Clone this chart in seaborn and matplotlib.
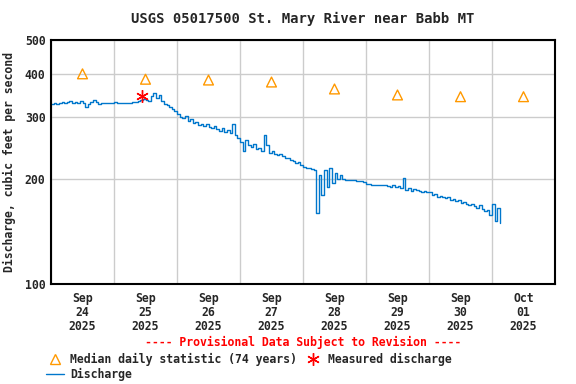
import numpy as np
import pandas as pd
import matplotlib
matplotlib.use("Agg")
import matplotlib.pyplot as plt
import matplotlib.dates as mdates
from matplotlib.lines import Line2D
from matplotlib.ticker import FixedLocator, NullFormatter, NullLocator
import seaborn as sns

# hourly discharge, cfs, starting Sep 24 2025 00:00
sep24 = [328, 330, 327, 331, 333, 329, 332, 335, 331, 333, 330, 334,
         329, 322, 328, 333, 336, 332, 327, 329, 330, 331, 330, 331]
sep25 = [332, 331, 331, 330, 329, 329, 331, 333, 332, 334, 336, 338,
         337, 334, 345, 352, 340, 348, 335, 328, 325, 322, 318, 314]
sep26 = [306, 300, 298, 302, 294, 296, 290, 292, 286, 288, 284, 287,
         282, 280, 284, 278, 275, 279, 272, 276, 270, 288, 268, 262]
sep27 = [255, 240, 258, 250, 247, 252, 244, 246, 240, 268, 250, 238,
         240, 236, 234, 236, 232, 230, 229, 227, 225, 222, 224, 219]
sep28 = [217, 215, 215, 214, 212, 160, 205, 180, 212, 190, 215, 195,
         208, 200, 205, 200, 199, 199, 198, 198, 197, 197, 197, 196]
sep29 = [193, 193, 192, 192, 192, 192, 192, 192, 191, 190, 192, 189,
         191, 188, 201, 186, 188, 185, 187, 186, 185, 184, 185, 183]
sep30 = [183, 180, 181, 178, 179, 177, 176, 178, 174, 175, 173, 174,
         171, 172, 170, 168, 169, 167, 165, 168, 164, 162, 163, 158]
oct01 = [170, 152, 165, 150]
discharge = sep24 + sep25 + sep26 + sep27 + sep28 + sep29 + sep30 + oct01

median_days = ["2025-09-24", "2025-09-25", "2025-09-26", "2025-09-27",
               "2025-09-28", "2025-09-29", "2025-09-30", "2025-10-01"]
median_vals = [400, 386, 384, 379, 362, 348, 344, 344]

measured_time = ["2025-09-25 10:30"]
measured_vals = [345]

y_ticks = [100, 200, 300, 400, 500]

times = pd.date_range("2025-09-24 00:00", periods=len(discharge), freq="h")
df = pd.DataFrame({"time": times, "discharge": discharge})
med = pd.DataFrame({"time": pd.to_datetime(median_days) + pd.Timedelta(hours=12),
                    "value": median_vals})
meas = pd.DataFrame({"time": pd.to_datetime(measured_time), "value": measured_vals})

sns.set_style("white")
plt.rcParams["font.family"] = ["DejaVu Sans Mono"]
plt.rcParams["font.weight"] = "bold"
plt.rcParams["axes.titleweight"] = "bold"
plt.rcParams["axes.labelweight"] = "bold"
plt.rcParams["font.size"] = 8.3

fig, ax = plt.subplots(figsize=(5.76, 3.84), dpi=100)
fig.subplots_adjust(left=51 / 576, right=555 / 576, top=1 - 40 / 384, bottom=1 - 284 / 384)

blue = "#0077cc"
sns.lineplot(data=df, x="time", y="discharge", ax=ax, color=blue, linewidth=1,
             drawstyle="steps-post")
sns.scatterplot(data=med, x="time", y="value", ax=ax, marker="^", s=50,
                facecolor="none", edgecolor="#ff9900", linewidth=1, zorder=4)
ax.plot(meas["time"], meas["value"], marker=(6, 2, 0), color="red",
        markersize=9, linestyle="none", markeredgewidth=1, zorder=5)

ax.set_yscale("log")
ax.set_ylim(100, 500)
ax.yaxis.set_major_locator(FixedLocator(y_ticks))
ax.yaxis.set_minor_locator(NullLocator())
ax.set_yticklabels([str(v) for v in y_ticks], fontweight="bold")
ax.set_xlim(pd.Timestamp("2025-09-24"), pd.Timestamp("2025-10-02"))

ax.xaxis.set_major_locator(mdates.DayLocator())
ax.xaxis.set_major_formatter(NullFormatter())
ax.xaxis.set_minor_locator(mdates.HourLocator(byhour=[12]))
ax.xaxis.set_minor_formatter(mdates.DateFormatter("%b\n%d\n%Y"))
ax.tick_params(axis="x", which="both", length=0, pad=6)
ax.tick_params(axis="y", length=0, pad=4)
for lab in ax.get_xticklabels(minor=True):
    lab.set_linespacing(1.1)
    lab.set_fontweight("bold")

ax.grid(True, which="major", color="#cccccc", linewidth=1)
for s in ax.spines.values():
    s.set_color("black")
    s.set_linewidth(1.5)

ax.set_xlabel("")
ax.set_ylabel("Discharge, cubic feet per second", labelpad=6, fontweight="bold")
ax.set_title("USGS 05017500 St. Mary River near Babb MT", pad=12, fontweight="bold")

fig.text(303 / 576, 1 - 342 / 384, "---- Provisional Data Subject to Revision ----",
         color="red", ha="center", va="center", fontweight="bold")

h_med = Line2D([], [], marker="^", color="#ff9900", markerfacecolor="none",
               linestyle="none", markersize=7)
h_dis = Line2D([], [], color=blue, linewidth=1)
h_meas = Line2D([], [], marker=(6, 2, 0), color="red", linestyle="none", markersize=9)
fig.legend([h_med, h_dis, h_meas],
           ["Median daily statistic (74 years)", "Discharge", "Measured discharge"],
           ncol=2, loc="upper left", bbox_to_anchor=(40 / 576, 1 - 347 / 384),
           frameon=False, handlelength=1.6, handletextpad=0.5, columnspacing=0.6,
           labelspacing=0.2, borderpad=0, prop={"weight": "bold"})

fig.savefig("out.png", dpi=100)
